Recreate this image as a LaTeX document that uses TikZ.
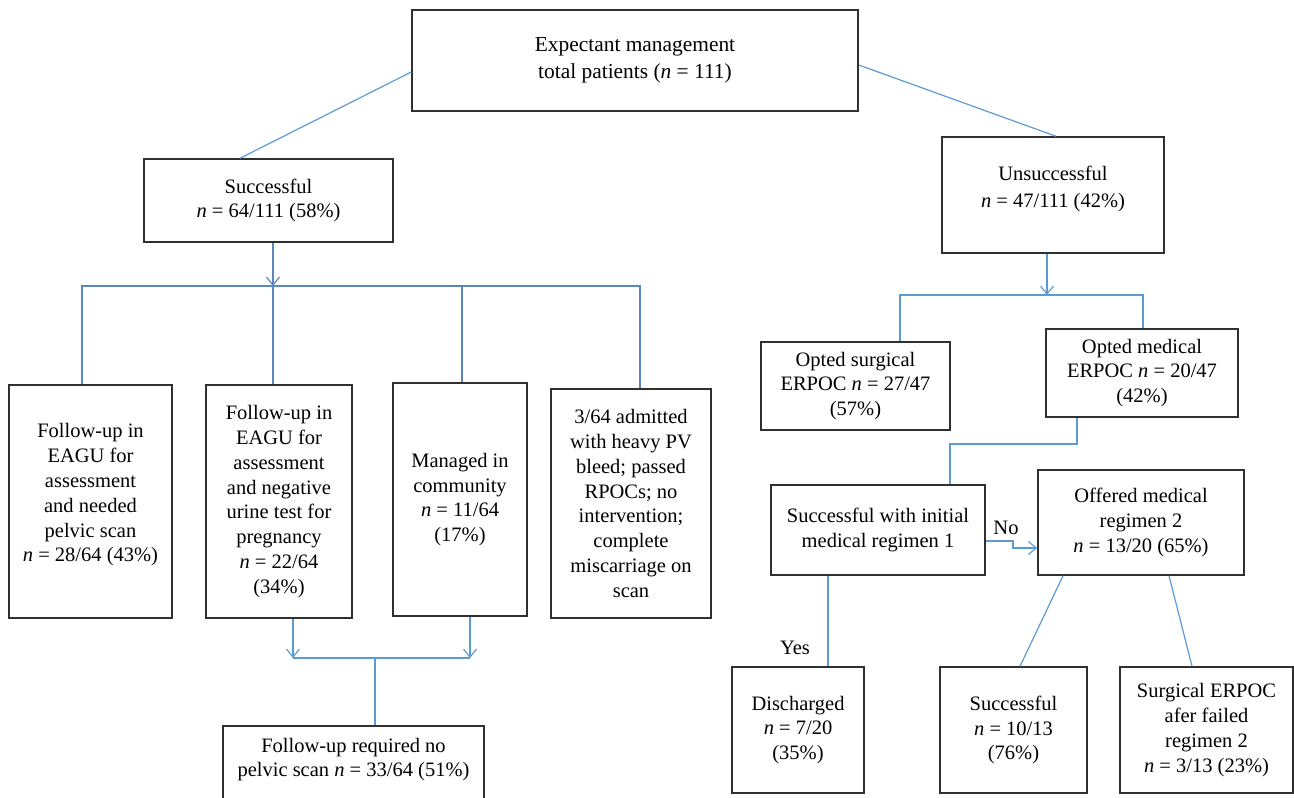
\documentclass[tikz,border=0pt]{standalone}
\usepackage{fontspec}
\setmainfont{Liberation Serif}
\usetikzlibrary{arrows.meta}
\definecolor{lnblue}{HTML}{5B9BD5}
\definecolor{lnblueL}{HTML}{5A86C2}
\definecolor{boxline}{HTML}{303030}
\tikzset{
  box/.style={draw=boxline, line width=0.75pt, fill=white, inner sep=2pt, align=center,
              font=\fontsize{10.25pt}{12.4pt}\selectfont},
  txt/.style={inner sep=0pt, align=center, font=\fontsize{10.25pt}{12.4pt}\selectfont},
  conn/.style={draw=lnblue, line width=0.6pt},
  connL/.style={draw=lnblueL, line width=0.6pt},
  arr/.style={conn, -{Straight Barb[length=4pt,width=6.5pt]}},
  arrL/.style={connL, -{Straight Barb[length=4pt,width=6.5pt]}},
}
\begin{document}
\begin{tikzpicture}[x=0.5pt,y=-0.5pt]
\useasboundingbox (0,0) rectangle (1294,797);

% top
\node[box, minimum width=223pt, minimum height=50.5pt,
      font=\fontsize{10.7pt}{13.5pt}\selectfont] (top) at (635,60.5)
  {Expectant management\\ total patients (\textit{n} = 111)};

% left branch
\node[box, minimum width=124.5pt, minimum height=41.5pt] (succ) at (268.5,200.5)
  {Successful\\ \textit{n} = 64/111 (58\%)};
\node[box, minimum width=111pt, minimum height=58pt] (unsucc) at (1053,195) {};
\node[txt, font=\fontsize{10.25pt}{13.5pt}\selectfont] (unsucct) at (1053,188.5)
  {Unsuccessful\\ \textit{n} = 47/111 (42\%)};

\node[box, minimum width=81.5pt, minimum height=116.5pt] (b1) at (90.5,501.5) {};
\node[txt] (b1t) at (90.5,495)
  {Follow-up in\\ EAGU for\\ assessment\\ and needed\\ pelvic scan\\ \textit{n} = 28/64 (43\%)};
\node[box, minimum width=73pt, minimum height=116.5pt] (b2) at (279,501.5)
  {Follow-up in\\ EAGU for\\ assessment\\ and negative\\ urine test for\\ pregnancy\\ \textit{n} = 22/64\\ (34\%)};
\node[box, minimum width=67pt, minimum height=116.5pt] (b3) at (460,499.5)
  {Managed in\\ community\\ \textit{n} = 11/64\\ (17\%)};
\node[box, minimum width=80pt, minimum height=114.5pt] (b4) at (631,503.5)
  {3/64 admitted\\ with heavy PV\\ bleed; passed\\ RPOCs; no\\ intervention;\\ complete\\ miscarriage on\\ scan};
\node[box, minimum width=130.5pt, minimum height=40pt] (final) at (353.5,766) {};
\node[txt] (finalt) at (353.5,759.5)
  {Follow-up required no\\ pelvic scan \textit{n} = 33/64 (51\%)};

% right branch
\node[box, minimum width=94.5pt, minimum height=44pt] (os) at (855.5,386)
  {Opted surgical\\ ERPOC \textit{n} = 27/47\\ (57\%)};
\node[box, minimum width=96pt, minimum height=44pt] (om) at (1142,373)
  {Opted medical\\ ERPOC \textit{n} = 20/47\\ (42\%)};
\node[box, minimum width=107pt, minimum height=45pt] (si) at (878,530)
  {Successful with initial\\ medical regimen 1};
\node[box, minimum width=103pt, minimum height=52.5pt] (of) at (1141,522.5)
  {Offered medical\\ regimen 2\\ \textit{n} = 13/20 (65\%)};
\node[box, minimum width=66pt, minimum height=63pt] (dis) at (798,730)
  {Discharged\\ \textit{n} = 7/20\\ (35\%)};
\node[box, minimum width=73.5pt, minimum height=63pt] (suc2) at (1013.5,730)
  {Successful\\ \textit{n} = 10/13\\ (76\%)};
\node[box, minimum width=86.5pt, minimum height=63pt] (surg) at (1206.5,730)
  {Surgical ERPOC\\ afer failed\\ regimen 2\\ \textit{n} = 3/13 (23\%)};

\node[txt] (no) at (1006,528) {No};
\node[txt] (yes) at (795,648) {Yes};

% connectors: top
\draw[conn] (top.west |- 0,72) -- (succ.north -| 240,0);
\draw[conn] (top.east |- 0,65) -- (unsucc.north -| 1056,0);

% left tree
\coordinate (sbus) at (273,286);
\draw[arrL] (succ.south -| sbus) -- (sbus);
\draw[connL] (b1.north -| 82,0) |- (sbus) -| (b4.north -| 640,0);
\draw[connL] (sbus) -- (b2.north -| sbus);
\coordinate (b3top) at (462,286);
\draw[connL] (b3top) -- (b3.north -| b3top);

\coordinate (j2) at (293,658);
\coordinate (j3) at (470,658);
\coordinate (lb) at (375,658);
\draw[arr] (b2.south -| j2) -- (j2);
\draw[arr] (b3.south -| j3) -- (j3);
\draw[conn] (j2) -- (j3);
\draw[conn] (lb) -- (final.north -| lb);

% right tree
\coordinate (ubus) at (1047,295);
\draw[arr] (unsucc.south -| ubus) -- (ubus);
\draw[conn] (os.north -| 900,0) |- (ubus) -| (om.north -| 1143,0);
\coordinate (mk) at (1077,444);
\draw[conn] (om.south -| mk) -- (mk) -| (si.north -| 950,0);
\coordinate (nk) at (1013,541);
\draw[arr] (si.east |- nk) -- (nk) |- (of.west |- 0,548);
\draw[conn] (si.south -| 828,0) -- (dis.north -| 828,0);
\draw[conn] (of.south -| 1063,0) -- (suc2.north -| 1020,0);
\draw[conn] (of.south -| 1169,0) -- (surg.north -| 1192,0);
\end{tikzpicture}
\end{document}
